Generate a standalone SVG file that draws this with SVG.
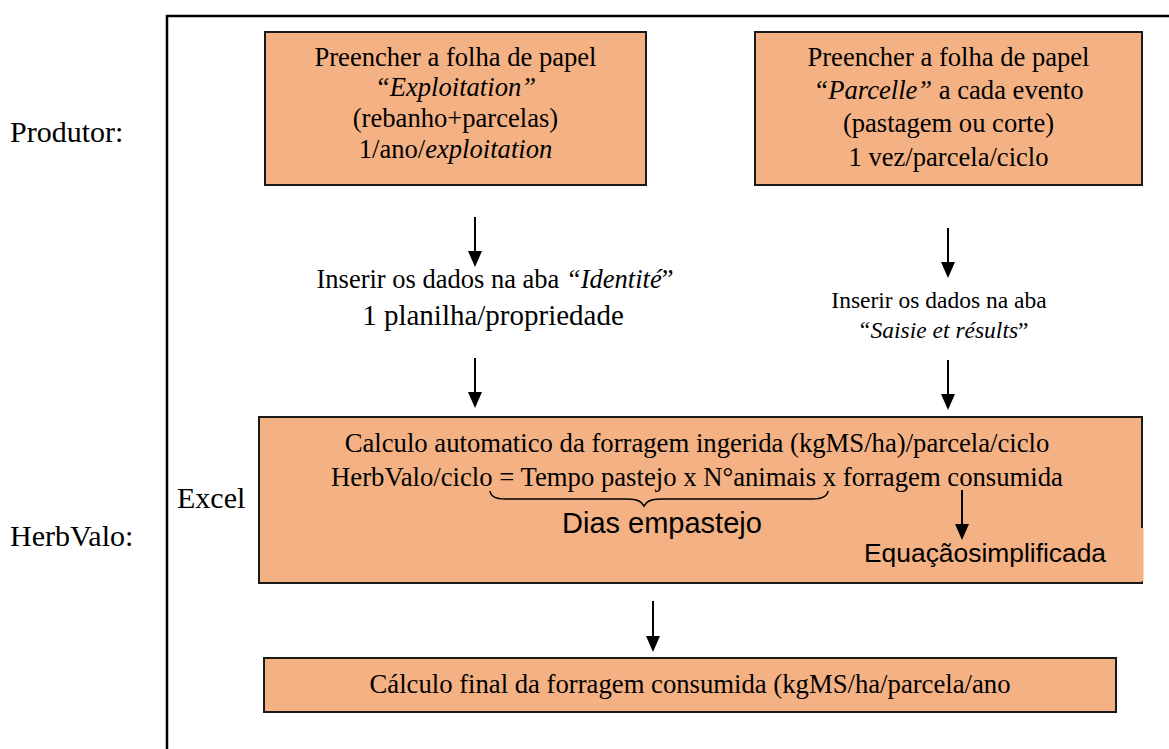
<svg xmlns="http://www.w3.org/2000/svg" width="1169" height="749" viewBox="0 0 1169 749">
<style>
.box{fill:#F4B183;stroke:#1a1a1a;stroke-width:2}
.s{font-family:"Liberation Serif","Times New Roman",serif;fill:#000}
.a{font-family:"Liberation Sans",Arial,sans-serif;fill:#000}
.c{text-anchor:middle}
.i{font-style:italic}
.ln{stroke:#000;stroke-width:2;fill:none}
</style>
<defs>
<marker id="ah" markerUnits="userSpaceOnUse" markerWidth="16" markerHeight="14" refX="6" refY="7" orient="auto">
<path d="M0,0 L16,7 L0,14 z" fill="#000"/>
</marker>
</defs>
<rect width="1169" height="749" fill="#fff"/>
<g id="frame">
<path d="M167,749 V16 H1169" fill="none" stroke="#000" stroke-width="2.5"/>
</g>
<g id="labels">
<text class="s" x="10" y="142" font-size="30">Produtor:</text>
<text class="s" x="10" y="546" font-size="30">HerbValo:</text>
<text class="s" x="177" y="508" font-size="30">Excel</text>
</g>
<g id="box1">
<rect class="box" x="265" y="32" width="381" height="153"/>
<text class="s c" x="455.5" y="65.5" font-size="26.6">Preencher a folha de papel</text>
<text class="s c i" x="455.5" y="96" font-size="26.6">“Exploitation”</text>
<text class="s c" x="455.5" y="127" font-size="26.6">(rebanho+parcelas)</text>
<text class="s c" x="455.5" y="157.5" font-size="26.6">1/ano/<tspan class="i">exploitation</tspan></text>
</g>
<g id="box2">
<rect class="box" x="755" y="32" width="387" height="153"/>
<text class="s c" x="948.5" y="65.5" font-size="26.6">Preencher a folha de papel</text>
<text class="s c" x="948.5" y="98.5" font-size="26.6"><tspan class="i">“Parcelle”</tspan> a cada evento</text>
<text class="s c" x="948.5" y="132" font-size="26.6">(pastagem ou corte)</text>
<text class="s c" x="948.5" y="165.5" font-size="26.6">1 vez/parcela/ciclo</text>
</g>
<g id="step-identite">
<text class="s c" x="495" y="288" font-size="26.5">Inserir os dados na aba <tspan class="i">“Identité</tspan>”</text>
<text class="s c" x="493" y="325" font-size="29">1 planilha/propriedade</text>
</g>
<g id="step-saisie">
<text class="s c" x="939" y="308" font-size="23.5">Inserir os dados na aba</text>
<text class="s c" x="943" y="338" font-size="23.5"><tspan class="i">“Saisie et résults</tspan>”</text>
</g>
<g id="box3">
<rect class="box" x="259" y="417" width="883" height="166"/>
<text class="s c" x="697" y="452" font-size="26.7">Calculo automatico da forragem ingerida (kgMS/ha)/parcela/ciclo</text>
<text class="s c" x="697" y="486" font-size="26.7">HerbValo/ciclo = Tempo pastejo x N°animais x forragem consumida</text>
<path d="M490,491 Q491,499 505,499 L628,499 Q641,499 644,506 Q647,499 660,499 L812,499 Q827,499 828,491" fill="none" stroke="#000" stroke-width="1.6"/>
<text class="a" x="562" y="533" font-size="29">Dias empastejo</text>
<rect x="855" y="528" width="288.5" height="53.5" fill="#F4B183"/>
<text class="a" x="864" y="562" font-size="26.4">Equaçãosimplificada</text>
</g>
<g id="box4">
<rect class="box" x="264" y="658" width="852" height="54"/>
<text class="s c" x="690" y="693" font-size="26.7">Cálculo final da forragem consumida (kgMS/ha/parcela/ano</text>
</g>
<g id="connectors">
<line class="ln" x1="475" y1="217" x2="475" y2="257" marker-end="url(#ah)"/>
<line class="ln" x1="475" y1="358" x2="475" y2="398" marker-end="url(#ah)"/>
<line class="ln" x1="948" y1="228" x2="948" y2="268" marker-end="url(#ah)"/>
<line class="ln" x1="948" y1="360" x2="948" y2="400" marker-end="url(#ah)"/>
<line class="ln" x1="962" y1="490" x2="962" y2="530" marker-end="url(#ah)"/>
<line class="ln" x1="653" y1="601" x2="653" y2="642" marker-end="url(#ah)"/>
</g>
</svg>
